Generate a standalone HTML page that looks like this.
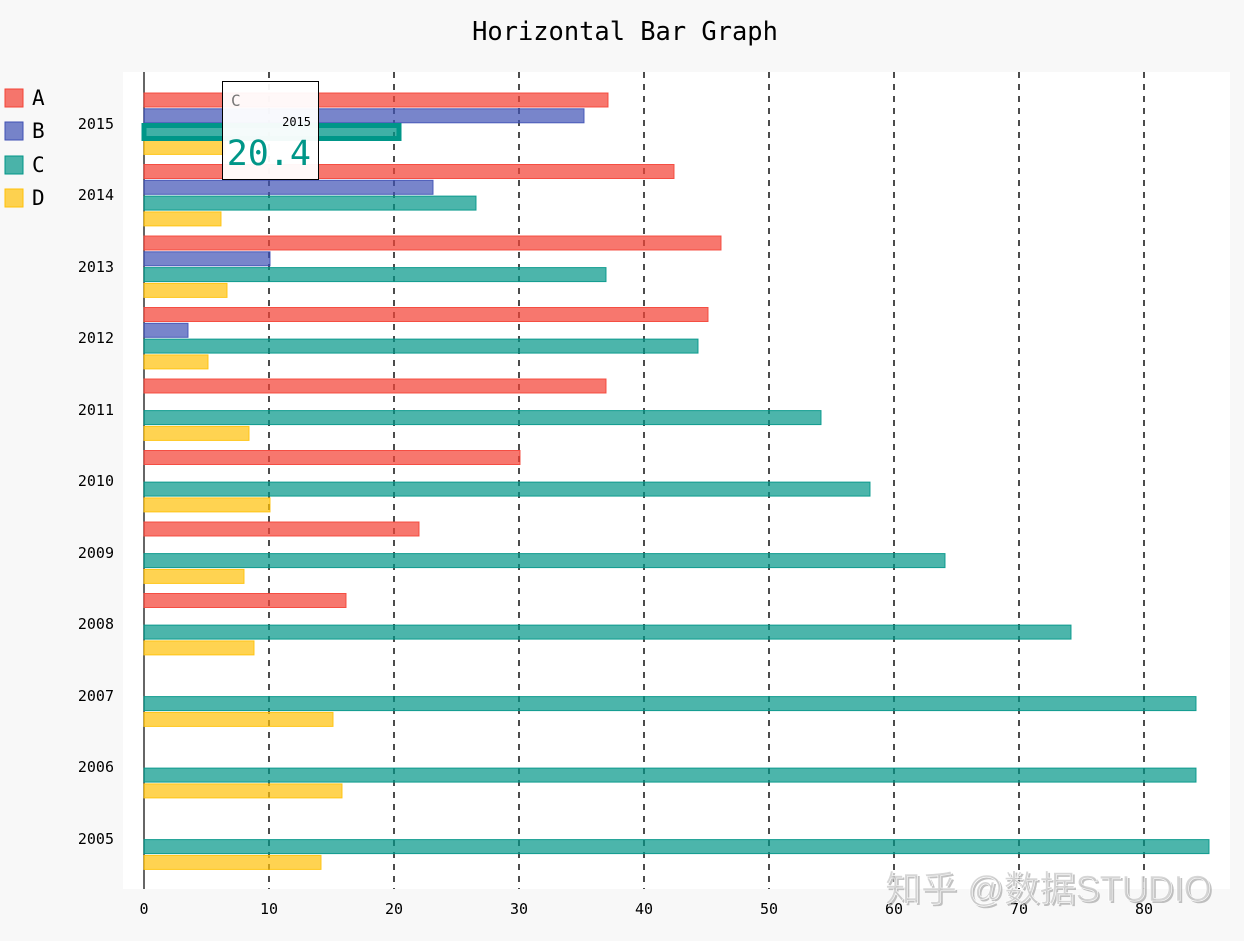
<!DOCTYPE html>
<html><head><meta charset="utf-8"><style>
html,body{margin:0;padding:0;background:#f8f8f8;}
svg{display:block;font-family:"DejaVu Sans Mono","Liberation Mono",monospace;}
</style></head><body>
<svg width="1244" height="941" xmlns="http://www.w3.org/2000/svg">
<rect width="1244" height="941" fill="#f8f8f8"/>
<text x="625" y="40" text-anchor="middle" font-size="25.4" fill="#000">Horizontal Bar Graph</text>
<rect x="123" y="72" width="1107" height="817" fill="#fff"/>
<g stroke="#000" stroke-width="1.4" stroke-dasharray="6,6">
<line x1="269" y1="72" x2="269" y2="889"/><line x1="394" y1="72" x2="394" y2="889"/>
<line x1="519" y1="72" x2="519" y2="889"/><line x1="644" y1="72" x2="644" y2="889"/>
<line x1="769" y1="72" x2="769" y2="889"/><line x1="894" y1="72" x2="894" y2="889"/>
<line x1="1019" y1="72" x2="1019" y2="889"/><line x1="1144" y1="72" x2="1144" y2="889"/>
</g>
<line x1="144" y1="72" x2="144" y2="889" stroke="#333" stroke-width="1.5"/>
<g font-size="15" fill="#000" text-anchor="middle">
<text x="144" y="914">0</text><text x="269" y="914">10</text><text x="394" y="914">20</text><text x="519" y="914">30</text><text x="644" y="914">40</text><text x="769" y="914">50</text><text x="894" y="914">60</text><text x="1019" y="914">70</text><text x="1144" y="914">80</text>
</g>
<g font-size="15" fill="#000" text-anchor="end">
<text x="114" y="129">2015</text><text x="114" y="200">2014</text><text x="114" y="272">2013</text><text x="114" y="343">2012</text><text x="114" y="415">2011</text><text x="114" y="486">2010</text><text x="114" y="558">2009</text><text x="114" y="629">2008</text><text x="114" y="701">2007</text><text x="114" y="772">2006</text><text x="114" y="844">2005</text>
</g>
<g transform="translate(0,1)">
<g fill="#F44336" fill-opacity="0.72" stroke="#F44336" stroke-opacity="0.9">
<rect x="144" y="92" width="464" height="14"/><rect x="144" y="163.5" width="530" height="14"/><rect x="144" y="235" width="577" height="14"/><rect x="144" y="306.5" width="564" height="14"/><rect x="144" y="378" width="462" height="14"/><rect x="144" y="449.5" width="376" height="14"/><rect x="144" y="521" width="275" height="14"/><rect x="144" y="592.5" width="202" height="14"/>
</g>
<g fill="#3F51B5" fill-opacity="0.7" stroke="#3F51B5" stroke-opacity="0.9">
<rect x="144" y="107.8" width="440" height="14"/><rect x="144" y="179.3" width="289" height="14"/><rect x="144" y="250.8" width="126" height="14"/><rect x="144" y="322.3" width="44" height="14"/>
</g>
<g fill="#009688" fill-opacity="0.7" stroke="#009688" stroke-opacity="0.9">
<rect x="144" y="195.1" width="332" height="14"/><rect x="144" y="266.6" width="462" height="14"/><rect x="144" y="338.1" width="554" height="14"/><rect x="144" y="409.6" width="677" height="14"/><rect x="144" y="481.1" width="726" height="14"/><rect x="144" y="552.6" width="801" height="14"/><rect x="144" y="624.1" width="927" height="14"/><rect x="144" y="695.6" width="1052" height="14"/><rect x="144" y="767.1" width="1052" height="14"/><rect x="144" y="838.6" width="1065" height="14"/>
</g>
<g fill="#FFC107" fill-opacity="0.7" stroke="#FFC107" stroke-opacity="0.9">
<rect x="144" y="139.4" width="81" height="14"/><rect x="144" y="210.9" width="77" height="14"/><rect x="144" y="282.4" width="83" height="14"/><rect x="144" y="353.9" width="64" height="14"/><rect x="144" y="425.4" width="105" height="14"/><rect x="144" y="496.9" width="126" height="14"/><rect x="144" y="568.4" width="100" height="14"/><rect x="144" y="639.9" width="110" height="14"/><rect x="144" y="711.4" width="189" height="14"/><rect x="144" y="782.9" width="198" height="14"/><rect x="144" y="854.4" width="177" height="14"/>
</g>
<rect x="144" y="124.5" width="255" height="13" fill="#009688" fill-opacity="0.75" stroke="#009688" stroke-width="5"/>
</g>
<g font-size="21" fill="#000">
<rect x="5" y="89" width="18" height="18" fill="#F44336" fill-opacity="0.72" stroke="#F44336"/><text x="32" y="105">A</text>
<rect x="5" y="122" width="18" height="18" fill="#3F51B5" fill-opacity="0.7" stroke="#3F51B5"/><text x="32" y="138">B</text>
<rect x="5" y="156" width="18" height="18" fill="#009688" fill-opacity="0.7" stroke="#009688"/><text x="32" y="172">C</text>
<rect x="5" y="189" width="18" height="18" fill="#FFC107" fill-opacity="0.7" stroke="#FFC107"/><text x="32" y="205">D</text>
</g>
<rect x="222.5" y="81.5" width="96" height="98" fill="#fff" fill-opacity="0.95" stroke="#000" stroke-width="1"/>
<text x="231" y="106" font-size="16" fill="#777">C</text>
<text x="311" y="126" font-size="12" fill="#000" text-anchor="end">2015</text>
<text x="311" y="165" font-size="35" fill="#009688" text-anchor="end">20.4</text>
<text x="887" y="903" font-size="36" fill="#999" fill-opacity="0.6" font-family="'Liberation Sans','Noto Sans CJK SC',sans-serif">知乎 @数据STUDIO</text>
<text x="885" y="901" font-size="36" fill="#ccc" fill-opacity="0.8" stroke="#fff" stroke-width="0.6" font-family="'Liberation Sans','Noto Sans CJK SC',sans-serif">知乎 @数据STUDIO</text>
</svg>
</body></html>
